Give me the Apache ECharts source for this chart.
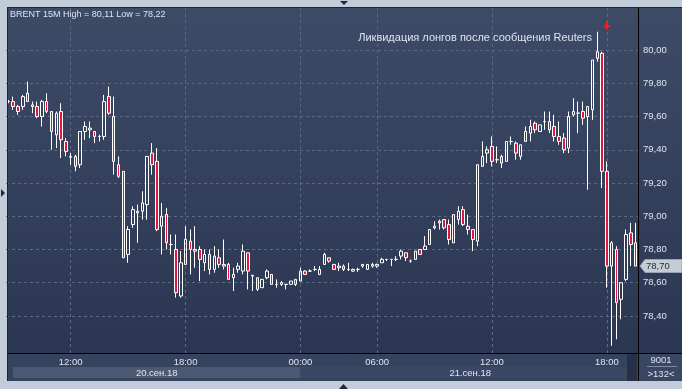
<!DOCTYPE html>
<html><head><meta charset="utf-8">
<script src="https://cdn.jsdelivr.net/npm/echarts@6/dist/echarts.min.js"></script>
<style>html,body{margin:0;padding:0;background:#c3cdda;} #c{width:682px;height:389px;}</style>
</head><body><div id="c"></div>
<script>
// ---- data (15-minute candles, BRENT) ----
const openP = [79.69,79.69,79.66,79.66,79.74,79.67,79.66,79.60,79.69,79.63,
79.49,79.63,79.45,79.36,79.36,79.31,79.51,79.52,79.51,79.48,
79.48,79.72,79.60,79.31,79.27,78.77,78.95,79.02,79.03,79.07,
79.38,79.33,78.94,79.01,78.83,78.80,78.52,78.71,78.85,78.80,
78.80,78.72,78.77,78.68,78.75,78.71,78.71,78.63,78.68,78.67,
78.78,78.645,78.63,78.57,78.63,78.65,78.59,78.59,78.59,78.59,
78.62,78.61,78.67,78.67,78.68,78.65,78.71,78.75,78.71,78.70,
78.70,78.68,78.67,78.68,78.71,78.68,78.70,78.70,78.72,78.74,
78.74,78.74,78.76,78.78,78.73,78.74,78.80,78.80,78.83,78.93,
78.96,78.98,78.95,78.84,78.98,79.04,78.94,78.92,78.85,79.30,
79.38,79.42,79.34,79.36,79.33,79.45,79.44,79.36,79.45,79.50,
79.56,79.51,79.57,79.57,79.54,79.48,79.47,79.41,79.61,79.62,
79.63,79.60,79.64,79.95,79.98,79.27,78.70,78.80,78.50,78.62,
78.90,78.84];
const closeP = [79.69,79.66,79.63,79.72,79.69,79.66,79.60,79.69,79.63,79.51,
79.62,79.46,79.39,79.355,79.30,79.51,79.54,79.53,79.48,79.48,
79.69,79.62,79.33,79.24,78.75,78.92,79.04,79.03,79.08,79.36,
79.31,78.92,79.00,78.84,78.83,78.54,78.72,78.86,78.80,78.79,
78.74,78.77,78.68,78.76,78.71,78.70,78.62,78.65,78.70,78.79,
78.67,78.64,78.56,78.62,78.67,78.59,78.59,78.60,78.59,78.61,
78.59,78.67,78.65,78.67,78.68,78.68,78.77,78.73,78.68,78.69,
78.68,78.68,78.68,78.68,78.70,78.71,78.71,78.71,78.74,78.74,
78.74,78.74,78.79,78.75,78.73,78.79,78.77,78.82,78.92,78.94,
78.97,78.93,78.86,79.01,79.03,78.95,78.92,78.86,79.31,79.36,
79.40,79.33,79.34,79.32,79.45,79.45,79.38,79.43,79.51,79.54,
79.52,79.55,79.57,79.52,79.48,79.45,79.40,79.60,79.63,79.62,
79.59,79.66,79.94,79.99,79.27,78.70,78.84,78.48,78.60,78.89,
78.83,78.70];
const lowP = [79.68,79.64,79.61,79.64,79.69,79.62,79.59,79.54,79.62,79.40,
79.41,79.35,79.36,79.31,79.27,79.29,79.46,79.47,79.44,79.45,
79.46,79.61,79.25,79.23,78.75,78.72,78.93,78.84,78.98,78.98,
79.25,78.91,78.77,78.80,78.77,78.51,78.51,78.71,78.65,78.69,
78.61,78.67,78.65,78.66,78.69,78.68,78.62,78.55,78.66,78.65,
78.56,78.55,78.55,78.57,78.62,78.59,78.57,78.58,78.56,78.59,
78.58,78.61,78.65,78.665,78.67,78.645,78.71,78.72,78.68,78.67,
78.67,78.67,78.665,78.665,78.69,78.68,78.69,78.69,78.72,78.73,
78.70,78.73,78.74,78.73,78.72,78.74,78.77,78.80,78.83,78.92,
78.92,78.92,78.83,78.84,78.95,78.94,78.89,78.79,78.82,79.30,
79.32,79.30,79.32,79.29,79.33,79.43,79.34,79.34,79.45,79.45,
79.50,79.51,79.52,79.50,79.45,79.43,79.38,79.38,79.60,79.50,
79.55,79.16,79.58,79.93,79.17,78.57,78.22,78.26,78.38,78.61,
78.70,78.70];
const highP = [79.70,79.72,79.67,79.73,79.81,79.69,79.69,79.70,79.74,79.63,
79.63,79.68,79.47,79.38,79.37,79.51,79.57,79.57,79.51,79.49,
79.73,79.78,79.72,79.36,79.27,78.94,79.06,79.07,79.15,79.36,
79.44,79.41,79.08,79.05,78.89,78.89,78.79,78.94,78.92,78.94,
78.82,78.80,78.80,78.82,78.80,78.86,78.72,78.69,78.72,78.83,
78.78,78.645,78.63,78.62,78.68,78.65,78.62,78.61,78.59,78.61,
78.62,78.69,78.675,78.68,78.70,78.70,78.78,78.75,78.71,78.72,
78.71,78.72,78.685,78.69,78.71,78.71,78.72,78.715,78.75,78.74,
78.74,78.76,78.80,78.78,78.74,78.79,78.80,78.88,78.92,78.97,
78.98,78.98,78.98,79.01,79.06,79.06,79.01,78.92,79.31,79.45,
79.42,79.48,79.42,79.37,79.45,79.48,79.45,79.43,79.54,79.58,
79.57,79.55,79.63,79.63,79.61,79.57,79.50,79.63,79.71,79.69,
79.69,79.66,79.94,80.11,79.99,79.33,78.85,78.82,78.60,78.92,
78.96,78.96];
const timeTickIdx = [13, 37, 61, 77, 101, 125];
const timeTickLabels = ['12:00', '18:00', '00:00', '06:00', '12:00', '18:00'];
const priceTicks = [78.4, 78.6, 78.8, 79.0, 79.2, 79.4, 79.6, 79.8, 80.0];
const dateLabels = ['20.сен.18', '21.сен.18'];
const dateBreakIdx = 61;
const annotationText = 'Ликвидация лонгов после сообщения Reuters';
const annotationIdx = 125;
const barsInfo = ['9001', '>132<'];

// ---- chart ----
const chart = echarts.init(document.getElementById('c'), null, {renderer: 'canvas', width: 682, height: 389});
const cats = openP.map((_, i) => String(i));
const ohlc = openP.map((o, i) => [o, closeP[i], lowP[i], highP[i]]);
const fmt = v => Number(v).toFixed(2).replace('.', ',');
const FONT = '"Liberation Sans", Arial, sans-serif';
const FS = 9.5;
const TXT = '#dbe4f0';

chart.setOption({
  animation: false,
  backgroundColor: '#c3cdda',
  grid: {left: 6, right: 44, top: 7, bottom: 36},
  xAxis: {
    type: 'category', data: cats, boundaryGap: true,
    axisLine: {show: false}, axisTick: {show: false}, splitLine: {show: false},
    axisLabel: {
      interval: (i) => timeTickIdx.indexOf(i) >= 0,
      formatter: (v) => { const k = timeTickIdx.indexOf(Number(v)); return k >= 0 ? timeTickLabels[k] : ''; },
      color: TXT, fontSize: FS, fontFamily: FONT, margin: 4
    }
  },
  yAxis: {
    type: 'value', position: 'right', min: 78.177, max: 80.259,
    axisLine: {show: false}, axisTick: {show: false}, splitLine: {show: false},
    axisLabel: {customValues: priceTicks, formatter: fmt, color: TXT, fontSize: FS, fontFamily: FONT, margin: 5}
  },
  series: [{
    type: 'candlestick', data: ohlc, barWidth: 3, z: 3,
    itemStyle: {color: 'rgba(0,0,0,0)', color0: '#e3173e', borderColor: '#ffffff', borderColor0: '#ffffff', borderWidth: 1},
    markLine: {
      silent: true, z: 1, symbol: ['none', 'none'], label: {show: false}, animation: false,
      lineStyle: {color: '#5b6984', type: [3, 3], width: 1},
      emphasis: {disabled: true},
      data: [...priceTicks.map(v => ({yAxis: v})), ...timeTickIdx.map(i => ({xAxis: i}))]
    }
  }]
});

const px = i => chart.convertToPixel({xAxisIndex: 0}, cats[i]);
const py = v => chart.convertToPixel({yAxisIndex: 0}, v);
const xBreak = px(dateBreakIdx);
const lastClose = closeP[closeP.length - 1];
const yLast = Math.round(py(lastClose));
const xArrow = Math.round(px(annotationIdx));
const hi = Math.max(...highP), lo = Math.min(...lowP);
const txt = (x, y, s, opt, fs) => Object.assign({
  type: 'text', x: x, y: y, z: 100, silent: true,
  style: Object.assign({text: s, fill: TXT, font: (fs || FS) + 'px ' + FONT, textAlign: 'left', textVerticalAlign: 'middle', align: 'left', verticalAlign: 'middle'}, opt || {})
});

chart.setOption({
  graphic: {elements: [
    {type: 'rect', z: -10, silent: true, shape: {x: 7, y: 7, width: 675, height: 346},
     style: {fill: new echarts.graphic.LinearGradient(0, 0, 0, 1, [{offset: 0, color: '#3e4b66'}, {offset: 1, color: '#2b3752'}])}},
    {type: 'rect', z: -10, silent: true, shape: {x: 7, y: 353, width: 675, height: 28}, style: {fill: '#36435e'}},
    {type: 'rect', z: -9, silent: true, shape: {x: 13, y: 367, width: xBreak - 13, height: 11}, style: {fill: '#4c5973'}},
    {type: 'rect', z: -9, silent: true, shape: {x: xBreak, y: 367, width: 627 - xBreak, height: 11}, style: {fill: '#3b4863'}},
    {type: 'rect', z: -9, silent: true, shape: {x: 627, y: 354, width: 10, height: 27}, style: {fill: '#263149'}},
    {type: 'rect', z: -9, silent: true, shape: {x: 639, y: 354, width: 43, height: 27}, style: {fill: '#3a4762'}},
    {type: 'line', z: 90, silent: true, shape: {x1: 7, y1: 353.5, x2: 682, y2: 353.5}, style: {stroke: '#000', lineWidth: 1}},
    {type: 'line', z: 90, silent: true, shape: {x1: 638.5, y1: 7, x2: 638.5, y2: 381}, style: {stroke: '#000', lineWidth: 1}},
    {type: 'line', z: 90, silent: true, shape: {x1: 7, y1: 7.5, x2: 682, y2: 7.5}, style: {stroke: '#1c2538', lineWidth: 1}},
    {type: 'line', z: 90, silent: true, shape: {x1: 7.5, y1: 7, x2: 7.5, y2: 381}, style: {stroke: '#1c2538', lineWidth: 1}},
    {type: 'line', z: 90, silent: true, shape: {x1: 647, y1: 366.5, x2: 677, y2: 366.5}, style: {stroke: '#7d8ba3', lineWidth: 1}},
    {type: 'polygon', z: 90, silent: true, shape: {points: [[340, 1], [348, 1], [344, 5]]}, style: {fill: '#1e2a40'}},
    {type: 'polygon', z: 90, silent: true, shape: {points: [[339, 389], [348, 389], [343.5, 384]]}, style: {fill: '#1e2a40'}},
    {type: 'polygon', z: 90, silent: true, shape: {points: [[1, 189], [1, 197], [5, 193]]}, style: {fill: '#1e2a40'}},
    // current price tag
    {type: 'polygon', z: 95, silent: true,
     shape: {points: [[640, yLast], [645, yLast - 6.5], [682, yLast - 6.5], [682, yLast + 6.5], [645, yLast + 6.5]]},
     style: {fill: '#c6ccd4', stroke: '#9aa3b0', lineWidth: 1}},
    txt(646, yLast, fmt(lastClose), {fill: '#1d2a44'}),
    // red arrow
    {type: 'polygon', z: 95, silent: true,
     shape: {points: [[xArrow - 1, 21], [xArrow + 1, 21], [xArrow + 1, 25], [xArrow + 4, 25], [xArrow, 30], [xArrow - 4, 25], [xArrow - 1, 25]]},
     style: {fill: '#ff1a1a'}},
    txt(10, 15, 'BRENT 15M High = ' + fmt(hi) + ' Low = ' + fmt(lo), null, 9),
    txt(592, 38, annotationText, {textAlign: 'right', align: 'right'}, 11),
    txt((13 + xBreak) / 2, 373, dateLabels[0], {textAlign: 'center', align: 'center'}),
    txt((xBreak + 640) / 2, 373, dateLabels[1], {textAlign: 'center', align: 'center'}),
    txt(661, 360, barsInfo[0], {textAlign: 'center', align: 'center'}),
    txt(661, 374, barsInfo[1], {textAlign: 'center', align: 'center'})
  ]}
});
</script></body></html>
